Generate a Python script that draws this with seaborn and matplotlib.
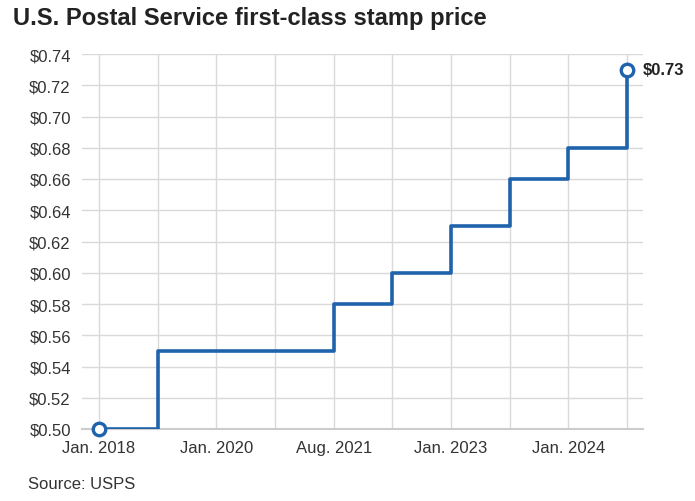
import numpy as np
import pandas as pd
import matplotlib
matplotlib.use("Agg")
import matplotlib.pyplot as plt
import seaborn as sns

# stamp price at each rate-change step (evenly spaced on the chart)
periods = ["Jan. 2018", "Jan. 2019", "Jan. 2020", "Jan. 2021", "Aug. 2021",
           "Jul. 2022", "Jan. 2023", "Jul. 2023", "Jan. 2024", "Jul. 2024"]
prices = [0.50, 0.55, 0.55, 0.55, 0.58, 0.60, 0.63, 0.66, 0.68, 0.73]
tick_labels = ["Jan. 2018", "Jan. 2020", "Aug. 2021", "Jan. 2023", "Jan. 2024"]
y_ticks = [0.50, 0.52, 0.54, 0.56, 0.58, 0.60, 0.62, 0.64, 0.66, 0.68, 0.70, 0.72, 0.74]

df = pd.DataFrame({"period": periods, "price": prices})
df["pos"] = np.arange(len(df))

sns.set_style("white")
plt.rcParams["font.family"] = ["Liberation Sans", "DejaVu Sans"]

blue = "#1f63ad"
fig = plt.figure(figsize=(6.95, 5.02), dpi=100)
ax = fig.add_axes([82 / 695, 1 - 430 / 502, (643 - 82) / 695, (430 - 55) / 502])

sns.lineplot(data=df, x="pos", y="price", ax=ax, color=blue, linewidth=2.6,
             drawstyle="steps-post", zorder=3)
# open circles at start and end
ends = df.iloc[[0, -1]]
ax.plot(ends["pos"], ends["price"], "o", markersize=9, markerfacecolor="white",
        markeredgecolor=blue, markeredgewidth=2.4, zorder=4, clip_on=False)

ax.set_xlim(-0.29, 9.27)
ax.set_ylim(0.50, 0.74)
ax.set_yticks(y_ticks)
ax.set_yticklabels([f"${v:.2f}" for v in y_ticks])
ax.set_xticks(df["pos"])
ax.set_xticklabels([p if p in tick_labels else "" for p in df["period"]])

ax.grid(True, color="#d9d9d9", linewidth=1)
ax.set_axisbelow(True)
for s in ["top", "right", "left"]:
    ax.spines[s].set_visible(False)
ax.spines["bottom"].set_color("#cccccc")
ax.spines["bottom"].set_linewidth(1.5)
ax.tick_params(axis="both", length=0, labelsize=12, labelcolor="#333333")
ax.tick_params(axis="y", pad=8)
ax.tick_params(axis="x", pad=8)
ax.set_xlabel("")
ax.set_ylabel("")

last = df.iloc[-1]
ax.annotate(f"${last['price']:.2f}", (last["pos"], last["price"]), xytext=(11, 0),
            textcoords="offset points", va="center", ha="left", fontsize=12,
            fontweight="bold", color="#222222", annotation_clip=False)

fig.text(13 / 695, 1 - 18 / 502, "U.S. Postal Service first-class stamp price",
         fontsize=17.1, fontweight="bold", color="#222222", va="center", ha="left")
fig.text(28 / 695, 1 - 485 / 502, "Source: USPS", fontsize=12, color="#333333",
         va="center", ha="left")

fig.savefig("out.png", dpi=100)
